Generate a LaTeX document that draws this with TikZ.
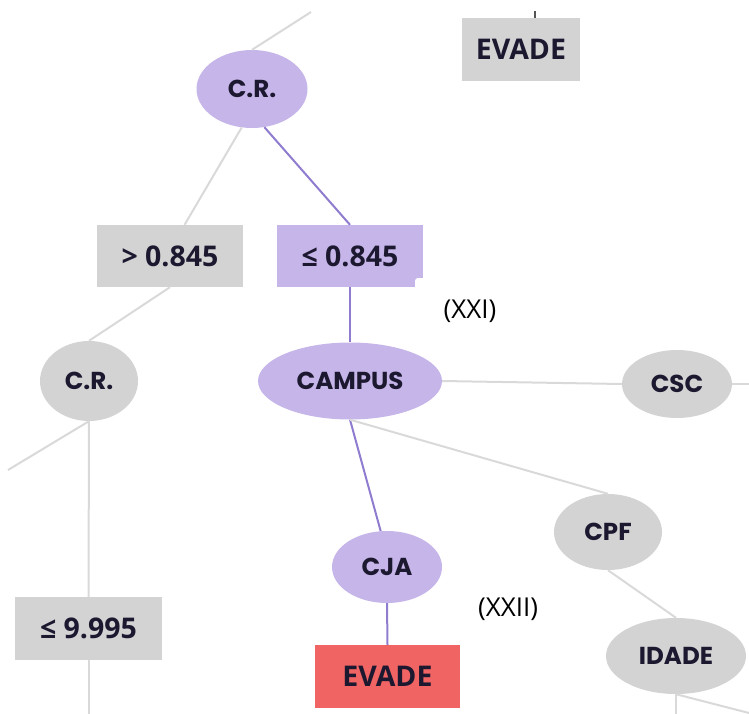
\documentclass[tikz,border=0pt]{standalone}
\usepackage{fontspec}
\setmainfont{Open Sans}
\newfontfamily\headfont{Poppins}
\usetikzlibrary{shapes.geometric}

\definecolor{lilac}{HTML}{C6B5E9}
\definecolor{lilacline}{HTML}{8F7CCF}
\definecolor{greyfill}{HTML}{D3D3D3}
\definecolor{greyline}{HTML}{D9D9D9}
\definecolor{tickline}{HTML}{555555}
\definecolor{redfill}{HTML}{F06464}
\definecolor{ink}{HTML}{1C1830}

\tikzset{
  x=1pt, y=-1pt,
  every node/.style={text=ink, inner sep=0pt},
  attr/.style={ellipse, font=\headfont\bfseries\fontsize{24.5}{26}\selectfont},
  attrlilac/.style={attr, fill=lilac},
  attrgrey/.style={attr, fill=greyfill},
  leaf/.style={rectangle, minimum width=146pt, minimum height=63pt,
    font=\bfseries\fontsize{28.5}{30}\selectfont},
  leafgrey/.style={leaf, fill=greyfill},
  leaflilac/.style={leaf, fill=lilac},
  leafred/.style={leaf, fill=redfill},
  edgegrey/.style={draw=greyline, line width=2pt},
  edgelilac/.style={draw=lilacline, line width=2pt},
  tag/.style={font=\fontsize{26}{28}\selectfont, text=black}
}

\begin{document}
\begin{tikzpicture}
\useasboundingbox (0,0) rectangle (749,714);

% split nodes
\node[attrlilac, minimum width=111pt, minimum height=78pt] (crtop) at (252,89) {C.R.};
\node[attrgrey, minimum width=98pt, minimum height=80pt] (crleft) at (89,381) {C.R.};
\node[attrlilac, minimum width=184pt, minimum height=77pt] (campus) at (350,381) {CAMPUS};
\node[attrgrey, minimum width=110pt, minimum height=68pt] (csc) at (677,384) {CSC};
\node[attrlilac, minimum width=110pt, minimum height=72pt] (cja) at (387,567) {CJA};
\node[attrgrey, minimum width=108pt, minimum height=76pt] (cpf) at (608,532) {CPF};
\node[attrgrey, minimum width=140pt, minimum height=76pt] (idade) at (676,656) {IDADE};

% threshold and outcome boxes
\node[leafgrey, minimum width=118pt] (evtop) at (521,49.5) {EVADE};
\node[leafgrey, minimum height=62pt] (gt) at (170,256) {> 0.845};
\node[leaflilac, minimum height=62pt] (le) at (350,256) {≤ 0.845};
\node[leafgrey, minimum width=147pt] (lenine) at (88.5,628.5) {≤ 9.995};
\node[leafred, minimum width=145pt] (evred) at (387.5,676.5) {EVADE};

% notch at the corner of the lilac box
\fill[white, rounded corners=3pt] (415,278) rectangle (426,290);

% loose ends running off the sheet
\coordinate (upA) at (311,12);
\coordinate (tickA) at (535,11);
\coordinate (offL) at (8,470);
\coordinate (offB) at (88.5,714);
\coordinate (offR) at (749,384);
\coordinate (offIa) at (676,714);
\coordinate (offIb) at (749,713);

% connectors
\draw[edgegrey] (crtop.north) -- (upA);
\draw[tickline, line width=2pt] (tickA) -- (tickA |- evtop.north);
\draw[edgegrey] (crtop.-105) -- (gt.65);
\draw[edgelilac] (crtop.-72) -- (le.north);
\draw[edgegrey] (gt.south) -- (crleft.north);
\draw[edgegrey] (crleft.south) -- (offL);
\draw[edgegrey] (crleft.south) -- (lenine.north);
\draw[edgegrey] (lenine.south) -- (offB);
\draw[edgelilac] (le.south) -- (campus.north);
\draw[edgegrey] (campus.east) -- (csc.west);
\draw[edgegrey] (csc.east) -- (offR);
\draw[edgelilac] (campus.south) -- (cja.100);
\draw[edgegrey] (campus.south) -- (cpf.north);
\draw[edgelilac] (cja.south) -- (evred.north);
\draw[edgegrey] (cpf.south) -- (idade.north);
\draw[edgegrey] (idade.south) -- (offIa);
\draw[edgegrey] (idade.south) -- (offIb);

% path labels
\node[tag] (xxi) at (470,311) {(XXI)};
\node[tag] (xxii) at (508,609) {(XXII)};
\end{tikzpicture}
\end{document}
